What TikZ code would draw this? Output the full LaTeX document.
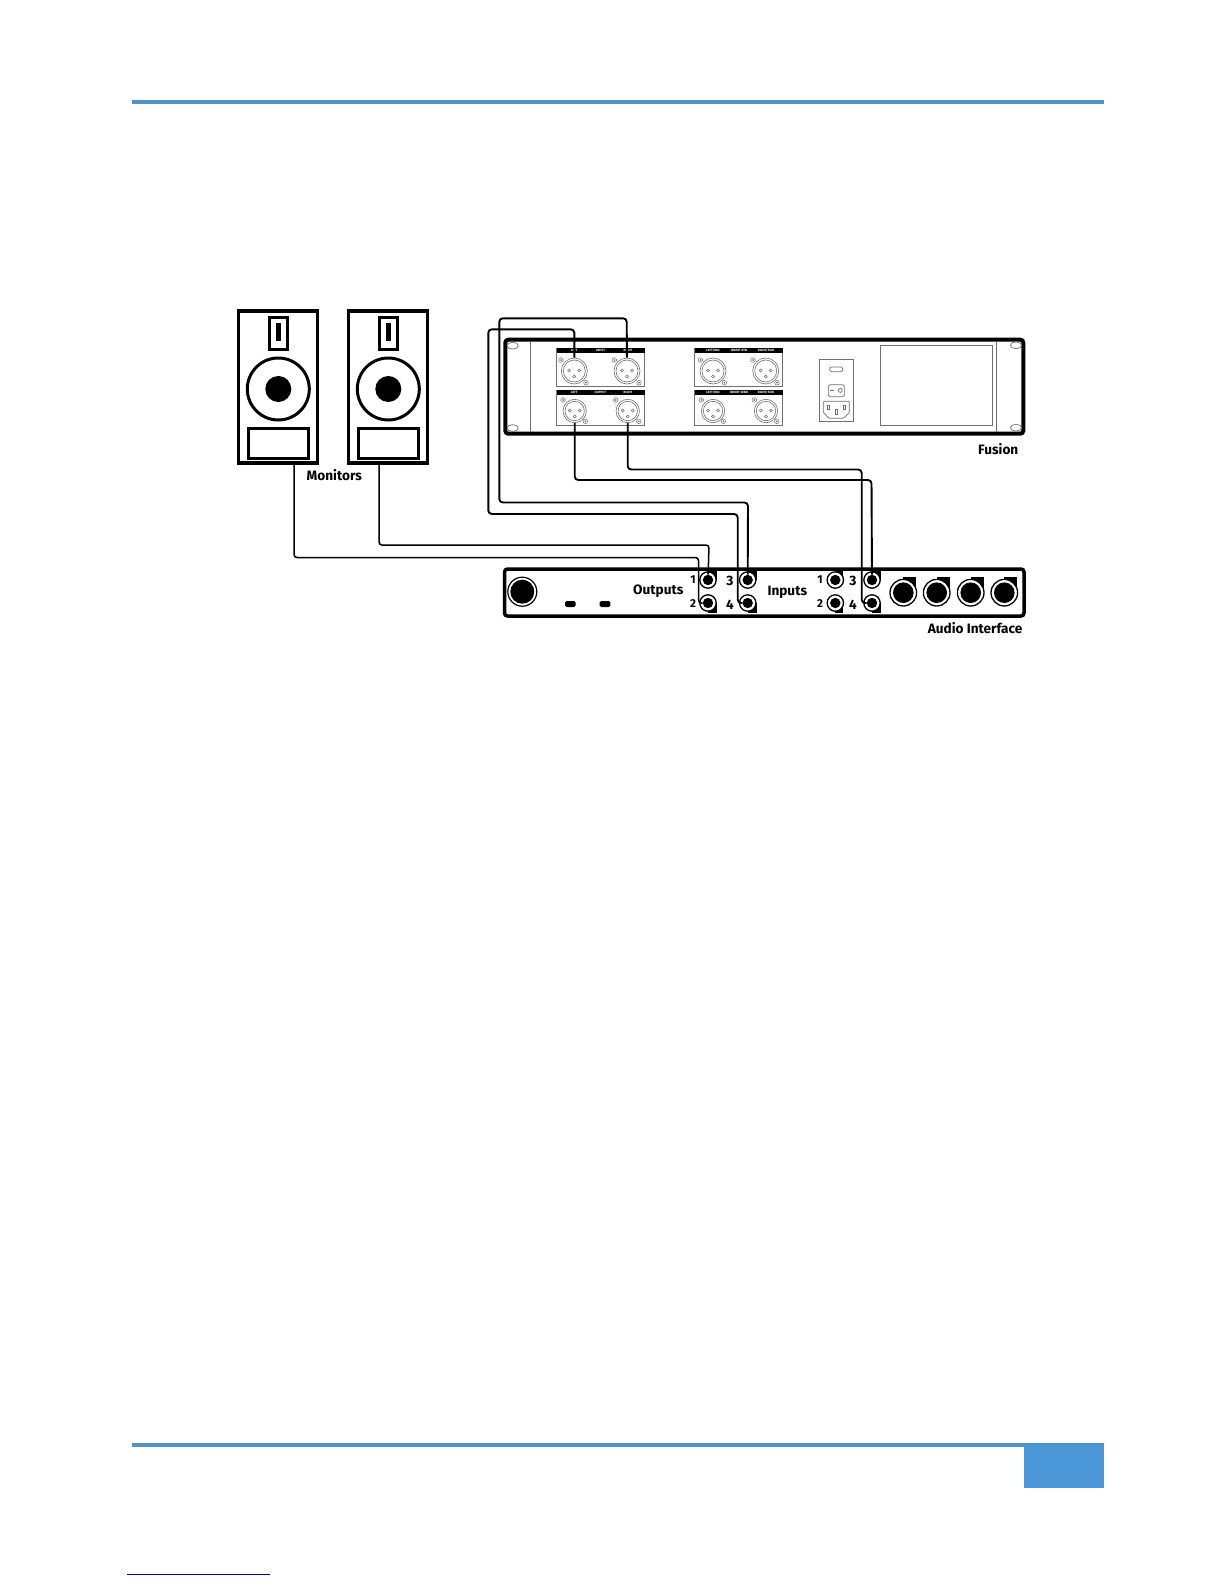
\documentclass[tikz,border=0pt]{standalone}
\usepackage{fontspec}
\setmainfont{Fira Sans}[BoldFont={Fira Sans Bold}]
\definecolor{barblue}{HTML}{4F94C6}
\definecolor{boxblue}{HTML}{4A96D6}
\definecolor{linkblue}{HTML}{000090}
\definecolor{panelgray}{HTML}{707070}
\tikzset{
  spkbox/.style={draw=black,line width=3.9pt,fill=white},
  spkin/.style={draw=black,line width=3pt,fill=white},
  frame/.style={draw=black,rounded corners=3pt,fill=white},
  thin gray/.style={draw=panelgray,line width=0.7pt},
  cable/.style={draw=black,line width=1.9pt,rounded corners=3.5pt},
  spkcable/.style={draw=black,line width=1.5pt,rounded corners=3pt},
  lbl/.style={font=\bfseries\fontsize{13.6}{15}\selectfont,inner sep=0pt},
  numlbl/.style={font=\bfseries\fontsize{11.5}{12}\selectfont,inner sep=0pt},
  numbig/.style={font=\bfseries\fontsize{13.6}{14}\selectfont,inner sep=0pt},
  tiny/.style={font=\bfseries\fontsize{3.1}{4}\selectfont,text=white,inner sep=0pt},
}
\newcommand{\speaker}[2]{% name, x offset
  \begin{scope}[xshift=#2pt]
    \path[spkbox] (238.5,311) rectangle (317.5,463.2);
    \path[spkin] (269,317.7) rectangle (287.7,349.7);
    \fill[black] (276,323) rectangle (281.3,341);
    \draw[line width=3pt,fill=white] (278.3,389) circle (31);
    \fill[black] (278.3,389) circle (13);
    \path[spkin] (248.4,428) rectangle (308,458.4);
    \coordinate (#1) at (278.3,463.2);
  \end{scope}}
\newcommand{\xlr}[6]{% name cx cy R screw1 screw2
  \node[circle,draw=panelgray,line width=0.6pt,fill=white,inner sep=0pt,minimum size=#4*2pt] (#1) at (#2,#3) {};
  \draw[panelgray,line width=0.6pt] (#2,#3) circle (#4-2.0);
  \foreach \dx/\dy in {-5/-0.5,5/-0.5,0/5.5}{\draw[panelgray,line width=0.5pt] (#2+\dx,#3+\dy) circle (1.5);}
  \draw[panelgray,line width=0.5pt] #5 circle (2.3);\fill[panelgray] #5 circle (1);
  \draw[panelgray,line width=0.5pt] #6 circle (2.3);\fill[panelgray] #6 circle (1);
}
% name cx cy, corner x, corner y, ring radius, core radius
\newcommand{\jack}[7]{%
  \fill[black] (#2,#3) rectangle (#4,#5);
  \draw[black,line width=1.3pt,fill=white] (#2,#3) circle (#6);
  \node[circle,fill=black,inner sep=0pt,minimum size=#7*2pt] (#1) at (#2,#3) {};
}
\begin{document}
\begin{tikzpicture}[x=1pt,y=-1pt]
\useasboundingbox (0,0) rectangle (1224,1584);
\fill[white] (0,0) rectangle (1224,1584);
% page furniture
\fill[barblue] (132,100) rectangle (1104,104);
\fill[barblue] (132,1443) rectangle (1104,1446.5);
\fill[boxblue] (1024,1446.5) rectangle (1104,1488);
\fill[linkblue] (127,1574) rectangle (270,1575.2);
% speakers
\speaker{spkA}{0}
\speaker{spkB}{110}
\node[lbl] (monlabel) at (334.3,475.5) {Monitors};
% Fusion rack
\path[frame,line width=4pt] (505.3,339.7) rectangle (1023.3,433.7);
\draw[thin gray] (530.7,342) -- (530.7,431.7);
\draw[thin gray] (996.7,342) -- (996.7,431.7);
\foreach \ex/\ey in {512.7/345.7,512.7/428,1016/345.3,1016/427.7}{\draw[panelgray,line width=0.7pt,fill=white] (\ex,\ey) ellipse (5.6 and 3.4);}
% XLR panels
\draw[thin gray,fill=white] (556.7,348.3) rectangle (644.7,386);
\fill[black] (556.7,348.3) rectangle (644.7,353);
\node[tiny] (t1) at (574.3,350.7) {LEFT};
\node[tiny] (t2) at (600.7,350.7) {INPUT};
\node[tiny] (t3) at (628,350.7) {RIGHT};
\draw[thin gray,fill=white] (556.7,390) rectangle (644.7,425.7);
\fill[black] (556.7,390) rectangle (644.7,394.7);
\node[tiny] (t4) at (574.3,392.4) {LEFT};
\node[tiny] (t5) at (600.3,392.4) {OUTPUT};
\node[tiny] (t6) at (628,392.4) {RIGHT};
\draw[thin gray,fill=white] (694.7,348.3) rectangle (782.7,386);
\fill[black] (694.7,348.3) rectangle (782.7,353);
\node[tiny] (t7) at (713,350.7) {LEFT/MID};
\node[tiny] (t8) at (739,350.7) {INSERT RTN};
\node[tiny] (t9) at (766,350.7) {RIGHT/SIDE};
\draw[thin gray,fill=white] (694.7,390) rectangle (782.7,425.7);
\fill[black] (694.7,390) rectangle (782.7,394.7);
\node[tiny] (t10) at (713,392.4) {LEFT/MID};
\node[tiny] (t11) at (739,392.4) {INSERT SEND};
\node[tiny] (t12) at (766,392.4) {RIGHT/SIDE};
\xlr{inL}{574.3}{371}{13}{(561,360)}{(586,382.7)}
\xlr{inR}{627}{371}{13}{(614.3,360)}{(639,382.7)}
\xlr{outL}{574.7}{411}{11.7}{(563,400)}{(585.3,421.3)}
\xlr{outR}{627.7}{411}{11.7}{(615.7,400)}{(638.7,421.3)}
\xlr{rtnL}{713}{371}{13}{(700.3,360)}{(724.3,382.7)}
\xlr{rtnR}{765.7}{371}{13}{(753,360)}{(777,382.7)}
\xlr{sndL}{713}{411}{11.7}{(701.3,400)}{(723.3,421.3)}
\xlr{sndR}{766}{411}{11.7}{(754.3,400)}{(776.7,421.3)}
% power module
\draw[thin gray,fill=white] (819.3,359.3) rectangle (853.7,421.7);
\draw[thin gray,rounded corners=2pt] (829.7,367) rectangle (842.7,371.7);
\draw[thin gray,rounded corners=1.5pt] (828.3,384.7) rectangle (844.3,396.7);
\draw[thin gray] (830,390.7) -- (834.3,390.7);
\draw[thin gray] (840.3,390.4) circle (2);
\draw[thin gray,rounded corners=1pt] (823.3,401.3) -- (849.3,401.3) -- (849.3,412.5) -- (843.5,418.3) -- (829,418.3) -- (823.3,412.5) -- cycle;
\draw[panelgray,line width=0.5pt] (827.3,405) rectangle (829.3,409);
\draw[panelgray,line width=0.5pt] (843.3,405) rectangle (845.3,409);
\draw[panelgray,line width=0.5pt] (835.3,409.5) rectangle (837.3,414);
\draw[thin gray] (880.3,345.3) rectangle (992.7,425.7);
\node[lbl,anchor=east] (fusionlabel) at (1018.5,449.3) {Fusion};
% Audio interface
\path[frame,line width=3.5pt] (504.5,569) rectangle (1024,616);
\node[circle,draw=black,line width=1.2pt,fill=white,inner sep=0pt,minimum size=29pt] (bigjack) at (522.3,591.7) {};
\fill[black] (522.3,591.7) circle (12);
\fill[black,rounded corners=1.5pt] (565,601) rectangle (575.6,607);
\fill[black,rounded corners=1.5pt] (599.7,601) rectangle (610.3,607);
\jack{oA}{708}{580}{717}{571}{8.2}{5.2}
\jack{oB}{708}{603}{717}{612.7}{8.2}{5.2}
\jack{oC}{747.7}{580}{756.7}{571}{8.2}{5.2}
\jack{oD}{747.7}{603}{756.7}{612.7}{8.2}{5.2}
\jack{iA}{835.3}{580}{843.3}{571}{8.2}{5.2}
\jack{iB}{835.3}{603}{843.3}{612.7}{8.2}{5.2}
\jack{iC}{872}{580}{881}{571}{8.2}{5.2}
\jack{iD}{872}{603}{881}{612.7}{8.2}{5.2}
\jack{bA}{903.3}{592.7}{916.3}{576.7}{13.3}{10.3}
\jack{bB}{936.7}{592.7}{949.7}{576.7}{13.3}{10.3}
\jack{bC}{970.7}{592.7}{983.7}{576.7}{13.3}{10.3}
\jack{bD}{1004.3}{592.7}{1017.3}{576.7}{13.3}{10.3}
\node[lbl] (outputs) at (658.3,591) {Outputs};
\node[lbl] (inputs) at (787.3,592) {Inputs};
\node[numlbl] (n1) at (693,580) {1};
\node[numlbl] (n2) at (693,603.5) {2};
\node[numbig] (n3) at (730,581) {3};
\node[numbig] (n4) at (730,605) {4};
\node[numlbl] (n5) at (820,580) {1};
\node[numlbl] (n6) at (820,603.5) {2};
\node[numbig] (n7) at (853,581) {3};
\node[numbig] (n8) at (853,605) {4};
\node[lbl,anchor=east] (ailabel) at (1022.5,628.3) {Audio Interface};
% cables
\draw[spkcable] (spkA) ++(15.7,0) -- (294,557.5) -- (698.5,557.5) -- (698.5,603) -- (oB);
\draw[spkcable] (spkB) ++(-9.3,0) -- (379,545) -- (709,545) -- (oA);
\draw[cable] (inR) -- (626.7,318.3) -- (499.3,318.3) -- (499.3,502.5) -- (748,502.5) -- (oC);
\draw[cable] (inL) -- (574.3,329.3) -- (488.3,329.3) -- (488.3,514) -- (737.7,514) -- (737.7,603) -- (oD);
\draw[cable] (outL) -- (574.7,480) -- (871.5,480) -- (iC);
\draw[cable] (outR) -- (627.7,469.5) -- (861.7,469.5) -- (861.7,603) -- (iD);
\end{tikzpicture}
\end{document}
